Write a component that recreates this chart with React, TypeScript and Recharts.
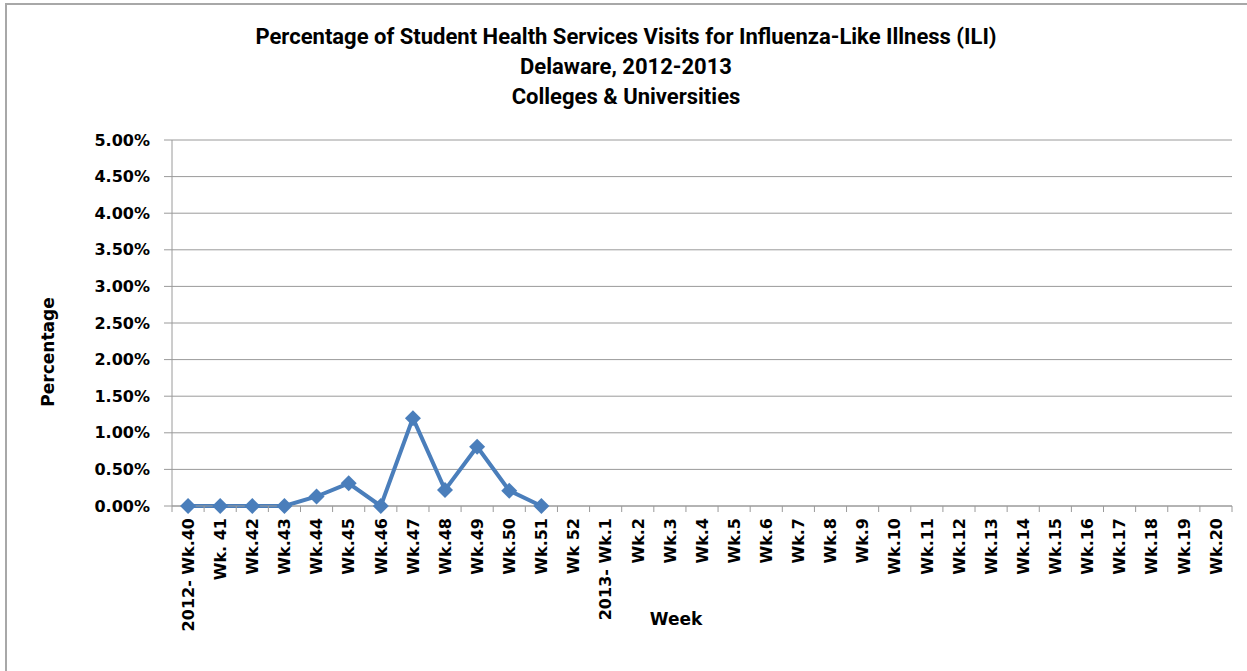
import { LineChart, Line, XAxis, YAxis, CartesianGrid } from 'recharts';

// weeks of the 2012-2013 season
const weeks = [
  '2012- Wk.40', 'Wk. 41', 'Wk.42', 'Wk.43', 'Wk.44', 'Wk.45', 'Wk.46', 'Wk.47',
  'Wk.48', 'Wk.49', 'Wk.50', 'Wk.51', 'Wk 52', '2013- Wk.1', 'Wk.2', 'Wk.3',
  'Wk.4', 'Wk.5', 'Wk.6', 'Wk.7', 'Wk.8', 'Wk.9', 'Wk.10', 'Wk.11', 'Wk.12',
  'Wk.13', 'Wk.14', 'Wk.15', 'Wk.16', 'Wk.17', 'Wk.18', 'Wk.19', 'Wk.20',
];

// percent of visits for ILI (only reported through Wk.51)
const iliPct: (number | null)[] = [
  0, 0, 0, 0, 0.13, 0.31, 0, 1.2, 0.22, 0.81, 0.21, 0,
  null, null, null, null, null, null, null, null, null, null, null,
  null, null, null, null, null, null, null, null, null, null,
];

const yTicks = [0, 0.5, 1, 1.5, 2, 2.5, 3, 3.5, 4, 4.5, 5];

const data = weeks.map((week, i) => ({ week, ili: iliPct[i] }));

const W = 1247;
const H = 671;
const PLOT_LEFT = 172;
const PLOT_RIGHT = 1232;
const PLOT_TOP = 140;
const PLOT_BOTTOM = 506;
const BAND = (PLOT_RIGHT - PLOT_LEFT) / weeks.length;
const AXIS_GREY = '#9a9a9a';
const TICK_FONT = "'DejaVu Sans', Verdana, sans-serif";

const WeekTick = (props: any) => {
  const { x, y, payload, index } = props;
  return (
    <g>
      <line x1={x - BAND / 2} y1={y} x2={x - BAND / 2} y2={y + 6} stroke={AXIS_GREY} />
      {index === weeks.length - 1 && (
        <line x1={x + BAND / 2} y1={y} x2={x + BAND / 2} y2={y + 6} stroke={AXIS_GREY} />
      )}
      <text
        x={x}
        y={y + 12}
        dy="0.36em"
        transform={`rotate(-90, ${x}, ${y + 12})`}
        textAnchor="end"
        fontFamily={TICK_FONT}
        fontWeight="bold"
        fontSize={16}
        fill="#000"
      >
        {payload.value}
      </text>
    </g>
  );
};

const Diamond = (props: any) => {
  const { cx, cy, value, index } = props;
  if (value == null) return <g key={`d-${index}`} />;
  const r = 8;
  return (
    <path
      key={`d-${index}`}
      d={`M${cx},${cy - r}L${cx + r},${cy}L${cx},${cy + r}L${cx - r},${cy}Z`}
      fill="#4a7ebb"
    />
  );
};

export default function App() {
  return (
    <div style={{ position: 'absolute', left: 0, top: 0, width: W, height: H, background: '#fff', overflow: 'hidden' }}>
      <div
        style={{
          position: 'absolute',
          left: 5,
          top: 3,
          width: W,
          height: H,
          borderLeft: '2px solid #a8a8a8',
          borderTop: '2px solid #a8a8a8',
        }}
      />
      <div
        style={{
          position: 'absolute',
          left: 0,
          top: 22,
          width: 1252,
          textAlign: 'center',
          fontFamily: "Roboto, sans-serif",
          fontWeight: 'bold',
          fontSize: 22,
          lineHeight: '30px',
          color: '#000',
        }}
      >
        <div>Percentage of Student Health Services Visits for Influenza-Like Illness (ILI)</div>
        <div>Delaware, 2012-2013</div>
        <div>Colleges &amp; Universities</div>
      </div>
      <div style={{ position: 'absolute', left: 0, top: 0 }}>
        <LineChart
          width={W}
          height={H}
          data={data}
          margin={{ top: PLOT_TOP, right: W - PLOT_RIGHT, bottom: 0, left: 0 }}
        >
          <CartesianGrid vertical={false} stroke={AXIS_GREY} strokeWidth={1} />
          <XAxis
            dataKey="week"
            interval={0}
            height={H - PLOT_BOTTOM}
            padding={{ left: BAND / 2, right: BAND / 2 }}
            tickSize={0}
            tickMargin={0}
            tickLine={false}
            tick={<WeekTick />}
            stroke={AXIS_GREY}
            label={{
              content: () => (
                <text x={676} y={625} textAnchor="middle" fontFamily={TICK_FONT} fontWeight="bold" fontSize={17} fill="#000">
                  Week
                </text>
              ),
            }}
          />
          <YAxis
            width={PLOT_LEFT}
            domain={[0, 5]}
            ticks={yTicks}
            interval={0}
            tickSize={8}
            tickMargin={14}
            stroke={AXIS_GREY}
            tickFormatter={(v: number) => `${v.toFixed(2)}%`}
            tick={{ fontFamily: TICK_FONT, fontWeight: 'bold', fontSize: 16, fill: '#000' }}
            label={{
              content: () => (
                <text
                  x={48}
                  y={352}
                  dy="0.36em"
                  transform="rotate(-90, 48, 352)"
                  textAnchor="middle"
                  fontFamily={TICK_FONT}
                  fontWeight="bold"
                  fontSize={17}
                  fill="#000"
                >
                  Percentage
                </text>
              ),
            }}
          />
          <Line
            dataKey="ili"
            stroke="#4a7ebb"
            strokeWidth={4}
            dot={Diamond}
            activeDot={false}
            connectNulls={false}
            isAnimationActive={false}
          />
        </LineChart>
      </div>
    </div>
  );
}
